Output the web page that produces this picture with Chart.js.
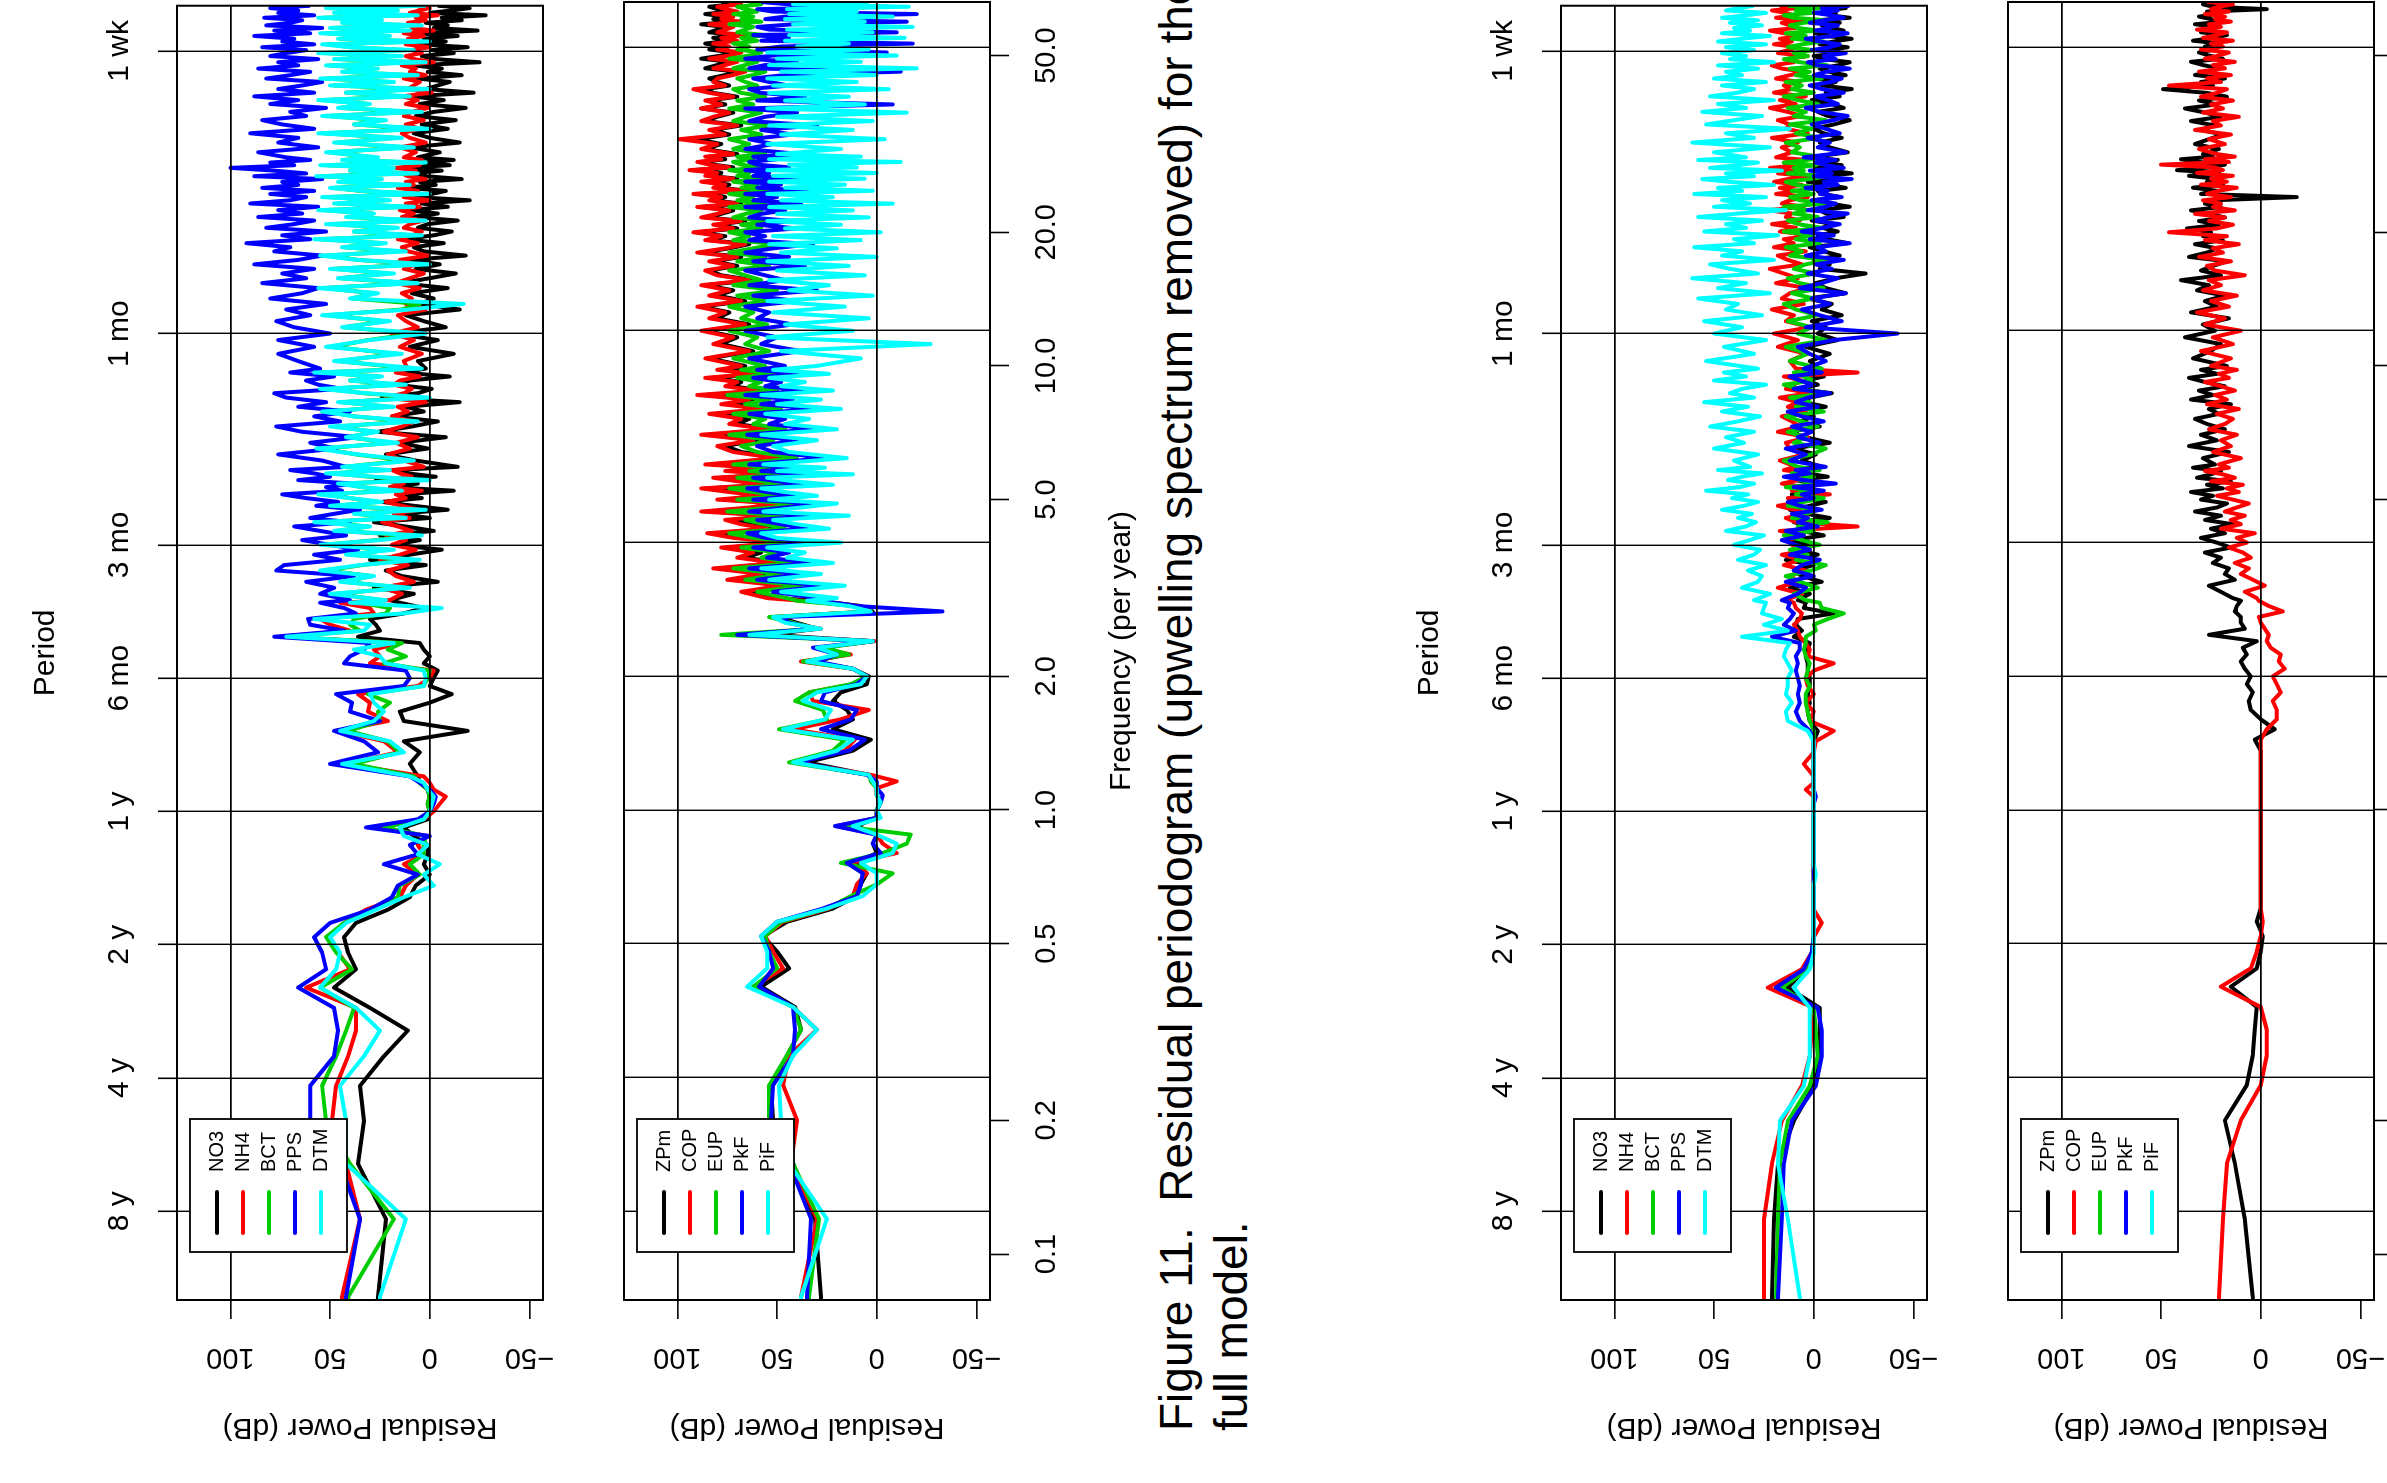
<!DOCTYPE html>
<html>
<head>
<meta charset="utf-8">
<title>Figure 11 - residual periodogram</title>
<script src="https://cdn.jsdelivr.net/npm/chart.js@4.4.1/dist/chart.umd.min.js"></script>
<style>
  html, body { margin: 0; padding: 0; background: #fff; }
  body { width: 2387px; height: 1483px; overflow: hidden; position: relative; }
  /* the page is laid out upright and turned a quarter turn, like the scanned figure */
  #page { position: absolute; left: 0; top: 0; width: 1483px; height: 2387px;
          transform-origin: 0 0; transform: translate(0, 1483px) rotate(-90deg); }
  #page canvas { position: absolute; left: 0; }
  #caption { position: absolute; left: 52px; top: 1149px; color: #000; white-space: pre;
             font: 46px/55px "Liberation Sans", Arial, sans-serif; }
</style>
</head>
<body>
<div id="page">
  <div id="caption">Figure 11.  Residual periodogram (upwelling spectrum removed) for the
full model.</div>
</div>
<script>
const FONT = '"Liberation Sans", Arial, Helvetica, sans-serif'
Chart.defaults.font.family = FONT
Chart.defaults.color = '#000'

// frequency (per year) shared by all curves
const freq = [
  0.04, 0.08, 0.12, 0.16, 0.2, 0.24, 0.28, 0.32, 0.36, 0.4,
  0.44, 0.48, 0.52, 0.56, 0.6, 0.64, 0.68, 0.72, 0.76, 0.8,
  0.84, 0.88, 0.92, 0.96, 1, 1.04, 1.08, 1.12, 1.16, 1.2,
  1.28, 1.36, 1.44, 1.52, 1.6, 1.68, 1.76, 1.84, 1.92, 2,
  2.08, 2.16, 2.24, 2.32, 2.4, 2.48, 2.56, 2.64, 2.72, 2.8,
  2.88, 2.96, 3, 3.1, 3.2, 3.3, 3.4, 3.5, 3.6, 3.7,
  3.8, 3.9, 4, 4.1, 4.2, 4.3, 4.4, 4.5, 4.6, 4.7,
  4.8, 4.9, 5, 5.1, 5.2, 5.3, 5.4, 5.5, 5.6, 5.7,
  5.8, 5.9, 6, 6.2, 6.4, 6.6, 6.8, 7, 7.2, 7.4,
  7.6, 7.8, 8, 8.2, 8.4, 8.6, 8.8, 9, 9.2, 9.4,
  9.6, 9.8, 10, 10.4, 10.8, 11.2, 11.6, 12, 12.4, 12.8,
  13.2, 13.6, 14, 14.4, 14.8, 15.2, 15.6, 16, 16.4, 16.8,
  17.2, 17.6, 18, 18.4, 18.8, 19.2, 19.6, 20, 20.4, 20.8,
  21.2, 21.6, 22, 22.4, 22.8, 23.2, 23.6, 24, 24.4, 24.8,
  25.2, 25.6, 26, 26.4, 26.8, 27.2, 27.6, 28, 28.4, 28.8,
  29.2, 29.6, 30, 30.8, 31.6, 32.4, 33.2, 34, 34.8, 35.6,
  36.4, 37.2, 38, 38.8, 39.6, 40.4, 41.2, 42, 42.8, 43.6,
  44.4, 45.2, 46, 46.8, 47.6, 48.4, 49.2, 50, 50.8, 51.6,
  52.4, 53.2, 54, 54.8, 55.6, 56.4, 57.2, 58, 58.8, 59.6,
  60.4, 61.2, 62, 62.8, 63.6, 64.4, 65.2, 66, 66.8
]

const modelA = ['NO3', 'NH4', 'BCT', 'PPS', 'DTM']
const modelB = ['ZPm', 'COP', 'EUP', 'PkF', 'PiF']
const lineColors = ['#000000', '#ff0000', '#00cd00', '#0000ff', '#00ffff']

const freqTicks = [0.1, 0.2, 0.5, 1, 2, 5, 10, 20, 50]
const freqTickLabels = ['0.1', '0.2', '0.5', '1.0', '2.0', '5.0', '10.0', '20.0', '50.0']
const periodFreqs = [0.125, 0.25, 0.5, 1, 2, 4, 12, 52.18]
const periodLabels = ['8 y', '4 y', '2 y', '1 y', '6 mo', '3 mo', '1 mo', '1 wk']
const powerTicks = [-50, 0, 50, 100]
const powerGrid = [0, 100]

// residual power (dB), panel 1 (nutrient model, top)
const p1NO3 = [
  30, 26, 22, 36, 33, 35, 23, 11, 30, 48,
  37, 41, 43, 37, 21, 10, 7, 0, 3, 1,
  1, 8, 13, 1, 0, 1, 0, 1, 5, 6,
  10, 5, 13, -19, 13, 15, 0, -11, 0, -2,
  -4, 3, 0, 3, 5, 36, 25, 27, 30, 13,
  3, 15, 20, 8, 28, -4, 14, 22, 2, 30,
  10, -6, 18, 5, 25, -2, 12, 28, 0, 16,
  -9, 8, 24, 4, 14, -12, 20, 6, 27, -3,
  11, 18, -14, 7, 22, 1, 15, -8, 26, 9,
  -4, 19, 3, 12, -15, 24, 6, -1, 17, 10,
  -10, 14, 2, 6, -12, 10, -4, 18, -8, 3,
  12, -15, 5, -2, 9, -9, 15, 0, -13, 7,
  -5, 10, -18, 3, 8, -7, 13, -2, -11, 6,
  1, -14, 9, -4, 11, -9, 4, -20, 7, -1,
  -8, 12, -3, 5, -16, 2, 9, -6, 14, -10,
  3, -12, 6, -5, 10, -15, 0, 8, -9, 4,
  -13, 7, -2, -18, 5, -7, 9, -22, 2, -4,
  -10, 6, -16, 1, -6, 8, -25, -3, 4, -12,
  -1, -19, 5, -8, 3, -14, 7, -24, -2, -9,
  2, -16, -6, -28, 0, -11, -20, -4, -8
]
const p1NH4 = [
  45, 44, 35, 42, 49, 47, 41, 37, 37, 62,
  40, 46, 50, 43, 32, 15, 12, 6, 13, 3,
  6, 1, 27, 3, -2, -5, -8, -2, 0, 3,
  42, 16, 23, 46, 21, 31, 30, 36, 6, 0,
  -2, 30, 25, 28, 15, 75, 40, 50, 55, 28,
  30, 45, 20, 14, 24, 8, 17, 21, 11, 25,
  15, 7, 19, 12, 22, 9, 16, 24, 10, 18,
  5, 14, 22, 12, 17, 4, 20, 13, 23, 9,
  15, 19, 3, 13, 21, 10, 17, 6, 23, 14,
  8, 19, 11, 16, 2, 22, 13, 9, 18, 15,
  5, 17, 11, 13, 4, 15, 8, 19, 6, 12,
  16, 2, 12, 9, 14, 5, 17, 10, 3, 13,
  7, 15, 1, 11, 14, 6, 16, 9, 4, 13,
  10, 3, 14, 8, 15, 5, 12, 0, 13, 9,
  6, 16, 8, 12, 2, 11, 14, 7, 17, 5,
  11, 4, 13, 7, 15, 2, 10, 14, 5, 12,
  3, 13, 9, 1, 12, 6, 14, -1, 11, 8,
  5, 13, 2, 10, 7, 14, -2, 8, 12, 4,
  9, 0, 12, 6, 11, 3, 13, -2, 9, 5,
  11, 2, 7, -4, 10, 5, 0, 8, 6
]
const p1BCT = [
  38, 41, 18, 40, 52, 54, 47, 42, 38, 55,
  39, 47, 52, 43, 30, 16, 15, 5, 10, 3,
  3, 2, 23, 3, 0, 1, 0, 1, 5, 8,
  38, 15, 21, 41, 25, 26, 20, 31, 3, 1,
  0, 23, 12, 21, 14, 72, 35, 40, 38, 22,
  20, 35, 24, 47, 14, 43, 29, 52, 34, 10,
  40, 21, 52, 27, 9, 46, 31, 55, 16, 37,
  7, 47, 26, 40, 53, 18, 34, 44, 5, 30,
  49, 23, 43, 12, 37, 54, 19, 41, 28, 47,
  10, 38, 51, 21, 44, 6, 33, 52, 16, 40,
  26, 55, 9, 46, 17, 49, 31, 7, 43, 23,
  51, 14, 5, 39, 28, 53, 10, 45, 21, 48,
  5, 36, 52, 16, 43, 24, 55, 9, 38, 19,
  49, 7, 41, 29, 53, 12, 46, 23, 51, 5,
  35, 48, 14, 45, 26, 54, 10, 40, 21, 52,
  7, 43, 28, 50, 12, 46, 18, 53, 5, 38,
  25, 51, 9, 45, 31, 53, 14, 42, 6, 48,
  21, 52, 10, 43, 28, 50, 7, 46, 18, 53,
  12, 40, 51, 6, 45, 23, 52, 14, 48, 9,
  43, 26, 53, 10, 46, 19, 50, 7, 40
]
const p1PPS = [
  44, 42, 35, 45, 60, 60, 48, 46, 48, 66,
  52, 54, 58, 50, 30, 19, 16, 6, 23, 6,
  10, 0, 32, 6, 0, -2, -3, 0, 5, 10,
  50, 26, 33, 48, 25, 40, 39, 47, 13, 10,
  12, 43, 40, 33, 30, 78, 43, 60, 61, 37,
  43, 55, 40, 55, 48, 62, 38, 77, 73, 45,
  58, 36, 50, 64, 42, 55, 68, 40, 60, 48,
  35, 57, 46, 62, 74, 44, 52, 38, 66, 50,
  58, 70, 42, 54, 76, 47, 60, 36, 64, 77,
  45, 58, 40, 66, 52, 72, 78, 44, 56, 62,
  48, 70, 55, 66, 76, 58, 76, 50, 68, 77,
  60, 72, 52, 80, 64, 56, 84, 62, 74, 58,
  88, 66, 54, 78, 70, 92, 60, 74, 52, 82,
  68, 58, 86, 64, 76, 56, 90, 70, 62, 80,
  58, 84, 66, 74, 54, 88, 62, 78, 100, 68,
  80, 60, 72, 86, 56, 76, 66, 90, 58, 74,
  84, 62, 70, 52, 80, 66, 88, 58, 76, 64,
  54, 82, 70, 60, 86, 66, 76, 56, 80, 72,
  62, 84, 58, 74, 68, 88, 60, 78, 54, 82,
  70, 64, 83, 58, 76, 66, 80, 60, 72
]
const p1DTM = [
  25, 25, 12, 42, 42, 45, 33, 25, 37, 55,
  47, 45, 50, 42, 27, 13, -2, 3, -5, 6,
  1, 13, 15, 3, 0, -1, -2, 1, 3, 10,
  44, 13, 20, 45, 28, 23, 28, 30, 3, 2,
  3, 22, 25, 38, 18, 72, 33, 30, 58, 13,
  -6, 40, 22, 50, 10, 45, 28, 55, 35, 5,
  42, 18, 55, 25, 4, 48, 30, 58, 12, 38,
  2, 50, 24, 40, 56, 14, 34, 46, 0, 28,
  52, 20, 44, 8, 36, 57, 16, 42, 26, 50,
  6, 38, 54, 18, 46, 0, 32, 55, 12, 40,
  24, 58, 4, 48, 14, 52, 30, 2, 44, 20,
  54, 10, -17, 40, 26, 56, 6, 46, 18, 50,
  0, 36, 55, 12, 44, 22, 58, 4, 38, 16,
  52, 2, 42, 28, 56, 8, 48, 20, 54, 0,
  34, 50, 10, 46, 24, 57, 6, 40, 18, 55,
  2, 44, 26, 52, 8, 48, 14, 56, 0, 38,
  22, 54, 4, 46, 30, 56, 10, 42, 0, 50,
  18, 55, 6, 44, 26, 52, 2, 48, 14, 56,
  8, 40, 54, 0, 46, 20, 55, 10, 50, 4,
  44, 24, 56, 6, 48, 16, 52, 2, 40
]

// panel 2 (plankton model, top)
const p2ZPm = [
  28, 28, 31, 42, 52, 53, 45, 38, 41, 58,
  44, 50, 57, 45, 22, 10, 8, 5, 11, 0,
  2, 0, 10, 0, 0, -2, 0, 0, 2, 4,
  35, 12, 3, 22, 12, 15, 22, 18, 5, 4,
  12, 32, 15, 28, 2, 54, 30, 40, 50, 2,
  8, 30, 50, 62, 45, 70, 55, 78, 48, 66,
  58, 74, 46, 68, 80, 52, 64, 72, 50, 84,
  60, 48, 76, 56, 70, 85, 54, 66, 78, 50,
  72, 58, 82, 47, 68, 76, 60, 84, 52, 70,
  64, 80, 55, 74, 62, 86, 58, 72, 68, 82,
  60, 76, 66, 84, 62, 78, 70, 86, 64, 80,
  74, 88, 66, 80, 72, 86, 62, 78, 84, 70,
  82, 68, 88, 74, 64, 84, 76, 90, 70, 80,
  66, 86, 78, 72, 88, 68, 82, 76, 90, 64,
  80, 74, 86, 70, 84, 78, 92, 72, 82, 88,
  76, 84, 70, 86, 78, 90, 74, 82, 68, 86,
  80, 72, 88, 76, 84, 70, 82, 86, 74, 80,
  84, 76, 70, 86, 80, 74, 88, 78, 72, 84,
  78, 86, 74, 82, 70, 84, 80, 76, 88, 72,
  82, 76, 86, 74, 80, 84, 72, 78, 82
]
const p2COP = [
  38, 38, 30, 43, 40, 47, 44, 30, 42, 62,
  47, 52, 56, 47, 24, 12, 10, 5, 13, -10,
  -3, 0, 20, 0, 0, -2, 0, 0, -10, 3,
  40, 16, 11, 42, 18, 4, 32, 34, 12, 5,
  12, 38, 13, 30, 1, 65, 28, 45, 52, 3,
  10, 38, 55, 68, 48, 75, 58, 82, 50, 70,
  62, 78, 48, 72, 85, 55, 68, 76, 52, 88,
  64, 50, 80, 58, 74, 88, 56, 70, 82, 52,
  76, 60, 86, 50, 72, 80, 62, 88, 54, 74,
  68, 84, 57, 78, 64, 90, 60, 76, 70, 86,
  62, 80, 68, 86, 64, 82, 72, 88, 66, 84,
  76, 90, 68, 84, 74, 88, 64, 80, 86, 72,
  84, 70, 90, 76, 66, 86, 78, 92, 72, 82,
  68, 88, 80, 74, 90, 70, 84, 78, 92, 66,
  82, 76, 88, 72, 86, 80, 94, 74, 84, 90,
  78, 86, 72, 88, 80, 99, 76, 84, 70, 88,
  82, 74, 88, 78, 86, 72, 84, 92, 76, 82,
  80, 72, 66, 82, 76, 70, 84, 74, 68, 80,
  74, 82, 70, 78, 66, 80, 76, 72, 84, 68,
  78, 72, 82, 70, 76, 80, 68, 74, 78
]
const p2EUP = [
  33, 34, 29, 42, 54, 54, 45, 38, 42, 62,
  50, 54, 56, 48, 25, 13, 0, -8, 18, -3,
  -15, -17, 18, 0, 0, -2, 0, 0, 3, 4,
  44, 22, 16, 49, 25, 27, 41, 34, 13, 5,
  12, 37, 14, 26, 2, 78, 30, 42, 54, 3,
  12, 40, 45, 60, 38, 66, 48, 72, 42, 58,
  50, 68, 40, 62, 74, 46, 56, 66, 44, 75,
  52, 42, 70, 48, 62, 74, 46, 58, 70, 44,
  64, 50, 72, 40, 60, 68, 52, 74, 46, 62,
  56, 72, 48, 66, 54, 75, 50, 64, 58, 70,
  52, 68, 56, 72, 54, 66, 60, 74, 55, 68,
  62, 74, 56, 70, 50, 72, 58, 66, 74, 54,
  70, 56, 74, 62, 50, 72, 64, 74, 58, 68,
  54, 72, 66, 58, 74, 56, 70, 62, 74, 52,
  68, 60, 72, 56, 70, 64, 74, 58, 68, 72,
  62, 70, 56, 72, 64, 74, 58, 68, 54, 72,
  66, 58, 74, 62, 70, 56, 68, 72, 60, 66,
  70, 62, 56, 72, 66, 60, 74, 64, 58, 70,
  64, 72, 60, 68, 56, 70, 66, 62, 74, 58,
  68, 62, 72, 60, 66, 70, 58, 64, 68
]
const p2PkF = [
  35, 35, 33, 44, 53, 52, 42, 41, 42, 59,
  52, 54, 58, 50, 27, 10, 8, 7, 15, -2,
  2, 0, 21, 0, 0, -2, -3, 0, 0, 5,
  40, 14, 6, 28, 13, 10, 28, 26, 10, 5,
  12, 30, 20, 32, 2, 70, 30, 44, 48, -33,
  10, 28, 30, 52, 26, 60, 38, 64, 32, 55,
  44, 62, 28, 56, 65, 35, 48, 60, 30, 64,
  46, 30, 62, 40, 55, 65, 34, 50, 62, 28,
  58, 36, 64, 25, 52, 60, 40, 65, 32, 54,
  46, 64, 30, 58, 42, 66, 36, 56, 48, 62,
  40, 60, 46, 64, 38, 58, 50, 66, 42, 60,
  54, 66, 40, 62, 30, 64, 46, 56, 66, 36,
  62, 44, 66, 52, 32, 64, 56, 66, 40, 60,
  42, 64, 58, 46, 66, 38, 62, 50, 66, 34,
  60, 48, 66, 40, 62, 54, 66, 44, 60, 64,
  50, 62, 38, 66, 52, 64, 42, 58, 30, 64,
  56, 40, 66, -8, 60, 36, 58, 64, 44, 54,
  62, 46, -12, 64, 56, 40, 66, 52, -5, 60,
  48, -18, 58, 44, 62, -10, 54, 60, 42, -15,
  56, 46, -20, 52, 60, -6, 44, 58, 50
]
const p2PiF = [
  37, 38, 25, 44, 48, 49, 42, 30, 42, 65,
  55, 55, 58, 50, 25, 7, 0, 0, 8, -8,
  -10, 0, 12, -2, 0, -2, 0, 0, 2, 4,
  42, 20, 12, 47, 26, 23, 37, 30, 8, 5,
  12, 35, 20, 30, 2, 64, 28, 46, 52, 3,
  14, 35, 20, 48, 16, 54, 28, 58, 22, 45,
  36, 55, 18, 50, 58, 24, 40, 52, 14, 57,
  38, 20, 54, 30, 46, 58, 22, 42, 55, 12,
  50, 26, 57, 15, 44, 52, 30, 58, 20, 46,
  34, 56, 18, 50, 28, 58, 22, 48, 36, 54,
  24, 52, 30, 8, 48, -27, 55, 12, 46, 4,
  52, 16, 55, 2, 44, 24, 54, 6, 50, 14,
  55, 0, 48, 20, 54, 8, 52, -2, 46, 18,
  55, 4, 50, 12, 54, -8, 48, 22, 55, 2,
  46, 16, 54, 6, 52, 0, 55, 10, 44, -12,
  54, 8, 50, 18, 55, -4, 48, 12, 54, 2,
  50, -15, 55, 6, 46, 14, 54, -6, 52, 10,
  55, 0, 48, -20, 54, 8, 50, -10, 55, 4,
  40, 14, 46, -14, 44, 2, 45, -18, 42, 6,
  46, -8, 44, 10, 45, -16, 42, 4, 46
]

// panel 3 (nutrient model, bottom)
const p3NO3 = [
  21, 21, 20, 18, 10, 0, -3, -3, -3, 13,
  4, 1, 0, 0, 0, 0, 0, 0, 0, 0,
  0, 0, 0, 0, 0, 0, 0, 0, 0, 0,
  0, 0, 0, -2, 2, 3, 2, 3, 2, 2,
  3, 3, 4, 3, 2, 10, 6, 9, 8, -10,
  5, 4, 8, 2, 12, -4, 6, 10, 0, 14,
  -2, 8, 3, 11, -5, 6, 1, 10, -8, 4,
  12, 2, -6, 7, 11, -3, 5, 0, 9, -7,
  3, 13, -4, 6, -1, 10, -8, 4, 12, -3,
  7, 0, 11, -6, 5, 2, -9, 8, -2, 4,
  -5, 6, -3, 2, -8, 4, -12, -2, -6, 1,
  -14, -4, -9, 3, -16, -6, -1, -11, -26, -3,
  -8, 0, -13, -5, 2, -17, -7, -2, -12, -4,
  -10, 1, -15, -6, -3, -18, -8, 0, -13, -5,
  -2, -16, -7, 3, -11, -4, -19, -9, -1, -14,
  -6, -12, 2, -17, -8, -3, -14, -5, 0, -10,
  -18, -7, -2, -15, -9, 1, -13, -6, -19, -4,
  -11, -1, -16, -8, -3, -12, -18, -5, 0, -14,
  -7, -17, -3, -10, -19, -6, -1, -15, -9, -4,
  -13, -2, -18, -8, -11, -5, -16, -9, -3
]
const p3NH4 = [
  26, 25, 25, 21, 16, 6, 2, 1, 0, 23,
  6, 1, 0, -4, 0, 0, 0, 0, 0, 0,
  0, 0, 0, 0, 0, 0, 0, 4, 0, 0,
  5, 0, -1, -10, 2, 0, 4, 0, 3, 4,
  0, -10, 3, 2, 4, 7, 8, 10, 7, 6,
  9, 10, 14, 6, 18, 8, 12, 4, 15, 7,
  16, 2, 11, 13, 5, 17, -22, 9, 14, 3,
  10, 18, 6, 13, -8, 11, 4, 16, 8, 12,
  2, 15, 9, 17, 5, 12, 14, 3, 18, 7,
  11, 16, 4, 13, 8, 17, 2, 14, 10, 6,
  15, -22, 9, 12, 4, 18, 8, 20, 2, 14,
  10, 21, 5, 16, 12, 3, 19, 8, 15, 22,
  6, 13, 18, 4, 20, 10, 15, 1, 17, 9,
  21, 7, 14, 11, 23, 5, 16, 12, 3, 19,
  9, 17, 6, 20, 13, 2, 18, 10, 22, 7,
  15, 4, 19, 11, 16, 8, 21, 3, 14, 12,
  18, 6, 13, 22, 9, 17, 4, 20, 11, 15,
  7, 19, 12, 5, 16, 21, 10, 14, 3, 18,
  13, 8, 20, 11, 17, 6, 15, 22, 9, 12,
  16, 5, 19, 10, 14, 21, 8, 17, 12
]
const p3BCT = [
  20, 19, 18, 17, 13, 2, -2, -1, 0, 16,
  3, 1, 0, 0, 0, 0, 0, 0, 0, 0,
  0, 0, 0, 0, 0, 0, 0, 0, 0, 0,
  0, 0, 0, 0, 2, 3, 4, 4, 2, 4,
  3, 2, 4, 5, 4, 4, -1, 0, -7, -15,
  -4, -3, 4, 10, -2, 7, 14, 1, -6, 9,
  3, 12, -3, 6, 15, 0, 8, -7, 11, 4,
  -2, 13, 5, -5, 9, 2, 14, -4, 7, 0,
  11, -3, 8, 15, 1, -6, 10, 4, 13, -2,
  6, 14, -5, 9, 2, 12, -7, 7, 15, 0,
  5, 10, -4, 12, 3, 14, -6, 8, 1, 13,
  -2, 9, 15, 0, 11, -5, 7, 13, -1, 10,
  4, -7, 12, 6, 14, -3, 9, 1, 15, -4,
  8, 13, -2, 10, 3, 15, -6, 7, 12, 0,
  11, -4, 9, 14, 2, -7, 13, 5, 10, -1,
  15, 3, -5, 11, 7, 14, -3, 9, 1, 12,
  -6, 10, 4, 13, -2, 8, 15, 0, 11, 6,
  14, -4, 9, 2, 12, -7, 7, 15, 3, 10,
  0, 13, 6, -5, 11, 4, 14, -2, 8, 12,
  5, -6, 10, 15, 1, 9, -3, 13, 6
]
const p3PPS = [
  18, 18, 16, 15, 11, -1, -4, -4, -2, 19,
  5, 1, 0, 0, 0, 0, 0, 0, 0, 0,
  0, 0, 0, 0, 0, 0, -1, 0, 0, 0,
  0, 0, 0, 2, 7, 9, 7, 8, 7, 8,
  9, 8, 9, 7, 7, 21, 9, 15, 12, 10,
  13, 12, 16, 8, 4, 14, 0, 10, 6, -3,
  12, 2, 9, 16, 5, 14, -2, 8, 3, 11,
  -4, 7, 13, 0, 6, -5, 10, -11, 5, 15,
  2, 9, -6, 12, 4, 14, -3, 8, 1, 11,
  -5, 6, 13, -2, 9, 3, -8, 10, 0, 7,
  12, -4, 5, -6, 2, 8, -10, -42, 4, -14,
  -3, 6, -8, 1, -16, 7, -4, -12, 3, -9,
  -1, -15, 4, -6, -2, -18, 2, -10, 6, -5,
  -13, 0, -8, -17, 3, -6, -11, 1, -14, -3,
  -7, 4, -12, -5, -19, 0, -9, 2, -15, -6,
  -1, -11, 5, -16, -2, -8, 3, -13, -6, 1,
  -10, -17, -3, 4, -12, -7, -1, -15, -4, 2,
  -9, -14, 0, -6, -18, -2, 3, -11, -5, -16,
  1, -8, -13, -3, 4, -10, -17, -1, -7, -12,
  2, -5, -15, -9, 0, -12, -4, -18, -6
]
const p3DTM = [
  0, 7, 13, 18, 17, 5, 2, 2, 2, 10,
  2, 0, 0, 0, 0, 0, 0, -1, 0, 0,
  0, 0, 0, 0, 0, 0, 0, 0, 0, 0,
  0, 0, 0, 3, 13, 14, 11, 14, 13, 13,
  11, 13, 15, 14, 12, 36, 13, 25, 16, 26,
  25, 24, 30, 22, 36, 28, 26, 33, 24, 38,
  30, 27, 40, 32, 25, 44, 34, 29, 38, 31,
  46, 35, 28, 41, 33, 54, 37, 30, 43, 36,
  26, 48, 32, 40, 28, 50, 35, 44, 30, 52,
  38, 27, 46, 33, 55, 30, 42, 36, 24, 50,
  34, 45, 28, 54, 30, 45, 24, 50, 36, 55,
  26, 44, 38, 58, 22, 48, 34, 61, 28, 42,
  52, 20, 46, 36, 60, 30, 40, 18, 55, 34,
  44, 26, 58, 38, 14, 50, 32, 46, 24, 60,
  36, 48, 20, 42, 56, 30, 44, 16, 52, 38,
  28, 58, 34, 50, 22, 61, 30, 44, 12, 54,
  40, 26, 56, 34, 48, 20, 52, 38, 30, 46,
  24, 50, 36, 44, 28, 48, 20, 42, 34, 46,
  30, 44, 24, 48, 36, 22, 46, 32, 40, 26,
  42, 28, 46, 34, 24, 44, 38, 30, 40
]

// panel 4 (plankton model, bottom) - only ZPm and COP have values
const p4ZPm = [
  2, 4, 8, 13, 18, 7, 4, 3, 2, 15,
  2, 0, -1, 2, 0, 0, 0, 0, 0, 0,
  0, 0, 0, 0, 0, 0, 0, 0, 0, 0,
  0, 0, 3, -7, 0, 5, 6, 4, 7, 5,
  8, 10, 7, 9, 2, 26, 8, 10, 10, 13,
  12, 10, 14, 20, 26, 13, 18, 16, 24, 20,
  28, 15, 22, 30, 18, 25, 14, 28, 20, 33,
  22, 17, 30, 24, 35, 19, 27, 15, 32, 25,
  20, 34, 23, 29, 16, 36, 22, 30, 18, 27,
  33, 21, 26, 15, 35, 24, 31, 18, 28, 36,
  22, 30, 17, 34, 25, 20, 38, 23, 29, 16,
  35, 22, 28, 18, 32, 26, 40, 20, 30, 24,
  17, 36, 27, 22, 33, 19, 29, 25, 37, 21,
  31, 18, 26, 35, 20, 28, 24, -18, 30, 22,
  34, 19, 27, 23, 36, 21, 42, 25, 18, 31,
  40, 24, 29, 21, 33, 26, 19, 30, 23, 35,
  20, 28, 38, 22, 31, 17, 27, 49, 24, 30,
  18, 33, 25, 21, 29, 35, 19, 26, 31, 23,
  28, 20, 34, 24, 17, 30, 26, 22, 33, 19,
  25, 31, 21, 27, -3, 24, 29, 20, 26
]
const p4COP = [
  21, 21, 19, 17, 10, 0, -3, -3, 0, 20,
  5, 2, 0, -1, 0, 0, 0, 0, 0, 0,
  0, 0, 0, 0, 0, 0, 0, 0, 0, 0,
  0, 0, 0, -3, -8, -8, -6, -10, -8, -6,
  -12, -9, -10, -5, -3, -4, -2, 0, 1, -11,
  -4, 1, 2, 8, -2, 4, 10, 6, 13, 5,
  9, 16, 7, 12, 3, 20, 10, 15, 8, 18,
  12, 6, 14, 22, 11, 17, 9, 25, 13, 19,
  28, 16, 21, 10, 24, 15, 20, 12, 26, 18,
  14, 22, 11, 27, 17, 23, 13, 20, 28, 16,
  21, 12, 25, 15, 30, 14, 24, 10, 28, 18,
  32, 16, 25, 12, 29, 20, 26, 8, 23, 27,
  15, 31, 19, 24, 11, 28, 17, 46, 22, 14,
  26, 18, 33, 13, 24, 20, 29, 15, 27, 21,
  12, 30, 17, 25, 14, 32, 19, 23, 50, 16,
  28, 13, 22, 31, 18, 26, 15, 33, 20, 24,
  11, 29, 19, 25, 14, 30, 22, 17, 46, 20,
  27, 15, 31, 18, 24, 13, 28, 21, 16, 30,
  19, 25, 14, 29, 22, 17, 32, 20, 26, 15,
  23, 18, 28, 16, 25, 21, 14, 27, 19
]
const p4EUP = []
const p4PkF = []
const p4PiF = []

// axis limits of every panel (R default 4% padding round 0.1-52 per yr and -50-120 dB)
const FMIN = 0.0788
const FMAX = 66
const PMIN = -56.8
const PMAX = 126.8

// box round the plotting region
const frame = {
  id: 'frame',
  afterDraw(chart) {
    const { ctx, chartArea: a } = chart
    ctx.save()
    ctx.strokeStyle = '#000'
    ctx.lineWidth = 2
    ctx.strokeRect(a.left, a.top, a.right - a.left, a.bottom - a.top)
    ctx.restore()
  },
}

// R style legend box in the corner of the plot
const boxLegend = {
  id: 'boxLegend',
  afterDraw(chart) {
    const { ctx, chartArea: a } = chart
    const x0 = a.left + 48
    const y0 = a.top + 13
    ctx.save()
    ctx.fillStyle = '#fff'
    ctx.fillRect(x0, y0, 133, 157)
    ctx.strokeStyle = '#000'
    ctx.lineWidth = 1.8
    ctx.strokeRect(x0, y0, 133, 157)
    ctx.font = '20px ' + FONT
    ctx.textBaseline = 'middle'
    ctx.textAlign = 'left'
    chart.data.datasets.forEach((ds, i) => {
      const y = y0 + 27 + i * 26
      ctx.strokeStyle = ds.borderColor
      ctx.lineWidth = 4
      ctx.lineCap = 'round'
      ctx.beginPath()
      ctx.moveTo(x0 + 19, y)
      ctx.lineTo(x0 + 60, y)
      ctx.stroke()
      ctx.fillStyle = '#000'
      ctx.fillText(ds.label, x0 + 80, y)
    })
    ctx.restore()
  },
}

const panels = [
  { top: 0, names: modelA, series: [p1NO3, p1NH4, p1BCT, p1PPS, p1DTM], period: true, freqAxis: false },
  { top: 447, names: modelB, series: [p2ZPm, p2COP, p2EUP, p2PkF, p2PiF], period: false, freqAxis: true },
  { top: 1384, names: modelA, series: [p3NO3, p3NH4, p3BCT, p3PPS, p3DTM], period: true, freqAxis: false },
  { top: 1831, names: modelB, series: [p4ZPm, p4COP, p4EUP, p4PkF, p4PiF], period: false, freqAxis: true },
]

const drawPanel = (p) => {
  const canvas = document.createElement('canvas')
  canvas.width = 1483
  canvas.height = 720
  canvas.style.top = p.top + 'px'
  document.getElementById('page').appendChild(canvas)

  const datasets = p.series.map((vals, i) => ({
    label: p.names[i],
    data: vals.map((v, k) => ({ x: freq[k], y: v })),
    borderColor: lineColors[i],
    backgroundColor: lineColors[i],
    borderWidth: 4,
    borderJoinStyle: 'round',
    pointRadius: 0,
    tension: 0,
    xAxisID: 'x',
    yAxisID: 'y',
    order: 4 - i, // later series on top, as R draws them
  }))

  new Chart(canvas, {
    type: 'line',
    data: { datasets },
    plugins: [frame, boxLegend],
    options: {
      responsive: false,
      animation: false,
      devicePixelRatio: 1,
      events: [],
      layout: { padding: { left: 0, right: 2, top: 0, bottom: 0 } },
      plugins: { legend: { display: false }, tooltip: { enabled: false } },
      scales: {
        x: {
          type: 'logarithmic',
          position: 'bottom',
          min: FMIN,
          max: FMAX,
          bounds: 'data',
          afterBuildTicks: (s) => { s.ticks = freqTicks.map((v) => ({ value: v })) },
          afterFit: (s) => { s.height = 177 },
          ticks: {
            display: p.freqAxis,
            autoSkip: false,
            minRotation: 0,
            maxRotation: 0,
            padding: 21,
            font: { size: 29 },
            callback: (v, i) => freqTickLabels[i],
          },
          grid: { display: p.freqAxis, drawOnChartArea: false, drawTicks: true, tickLength: 19, tickWidth: 1.6, color: '#000', z: 1 },
          border: { display: false },
          title: { display: p.freqAxis, text: 'Frequency (per year)', font: { size: 30 }, padding: { top: 0, bottom: 27 } },
        },
        xp: {
          type: 'logarithmic',
          axis: 'x',
          position: 'top',
          min: FMIN,
          max: FMAX,
          bounds: 'data',
          afterBuildTicks: (s) => { s.ticks = periodFreqs.map((v) => ({ value: v })) },
          afterFit: (s) => { s.height = 177 },
          ticks: {
            display: p.period,
            autoSkip: false,
            minRotation: 0,
            maxRotation: 0,
            padding: 20,
            font: { size: 30 },
            callback: (v, i) => periodLabels[i],
          },
          grid: { drawOnChartArea: true, drawTicks: p.period, tickLength: 19, lineWidth: 1.4, tickWidth: 1.6, color: '#000', z: 1 },
          border: { display: false },
          title: { display: p.period, text: 'Period', font: { size: 30 }, padding: { top: 28, bottom: 0 } },
        },
        y: {
          type: 'linear',
          position: 'left',
          min: PMIN,
          max: PMAX,
          afterBuildTicks: (s) => { s.ticks = powerTicks.map((v) => ({ value: v })) },
          afterFit: (s) => { s.width = 183 },
          ticks: {
            autoSkip: false,
            minRotation: 90,
            maxRotation: 90,
            crossAlign: 'center',
            padding: 13,
            font: { size: 29 },
            callback: (v) => (v < 0 ? '\u2212' + Math.abs(v) : String(v)),
          },
          grid: {
            z: 1,
            lineWidth: 1.7,
            tickLength: 19,
            tickWidth: 1.6,
            tickColor: '#000',
            color: (c) => (c.tick && powerGrid.includes(c.tick.value) ? '#000' : 'rgba(0,0,0,0)'),
          },
          border: { display: false },
          title: { display: true, text: 'Residual Power (dB)', font: { size: 30 }, padding: { top: 38, bottom: 0 } },
        },
      },
    },
  })
}

panels.forEach(drawPanel)
</script>
</body>
</html>
